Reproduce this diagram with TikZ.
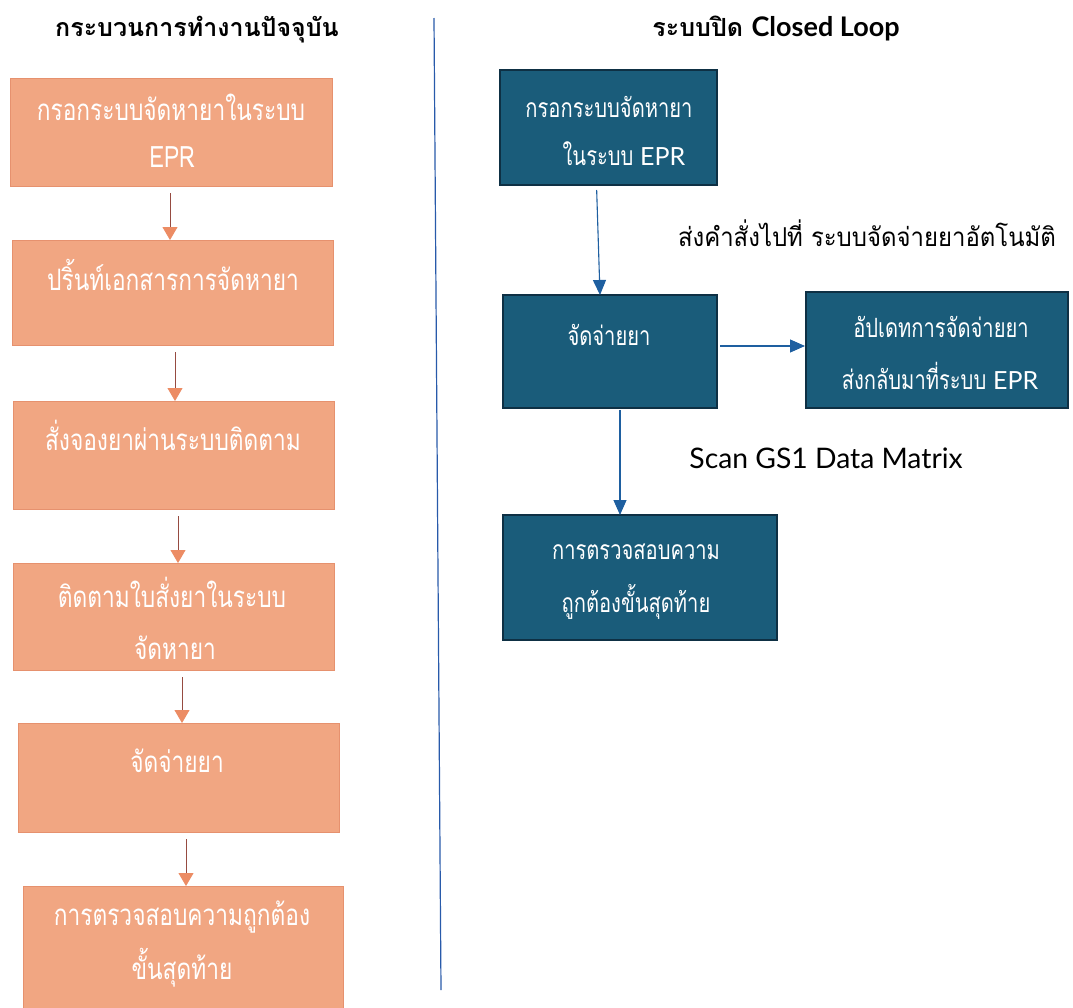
\documentclass[tikz,border=0pt]{standalone}
\usepackage{fontspec}
\newfontfamily\thai[Script=Thai]{Loma}
\newfontfamily\thaiL[Script=Thai, FakeStretch=0.77]{Loma}
\newfontfamily\thaiR[Script=Thai, FakeStretch=0.76]{Loma}
\newfontfamily\thaiM[Script=Thai, FakeStretch=0.92]{Loma}
\newfontfamily\latn{Lato}
\usetikzlibrary{arrows.meta}
\definecolor{ofill}{RGB}{241,166,130}
\definecolor{oborder}{RGB}{230,145,110}
\definecolor{oline}{RGB}{150,75,65}
\definecolor{ohead}{RGB}{236,140,100}
\definecolor{tfill}{RGB}{26,92,122}
\definecolor{tborder}{RGB}{14,48,68}
\definecolor{barrow}{RGB}{30,95,160}
\definecolor{divider}{RGB}{40,90,170}
\tikzset{
  obox/.style={draw=oborder, line width=1pt, fill=ofill, outer sep=0pt, anchor=north west},
  tbox/.style={draw=tborder, line width=1.6pt, fill=tfill, outer sep=0pt, anchor=north west},
  otxt/.style={text=white, font=\thaiL\fontsize{29.5}{33}\selectfont, inner sep=0pt, text height=15pt, text depth=0pt},
  ttxt/.style={text=white, font=\thaiR\fontsize{26.5}{30}\selectfont, inner sep=0pt, text height=14pt, text depth=0pt},
  plain/.style={text=black, inner sep=0pt, text height=12pt, text depth=0pt},
  oarr/.style={draw=oline, line width=0.8pt, -{Triangle[width=15pt,length=13pt,color=ohead]}, shorten <=7pt},
  barr/.style={draw=barrow, line width=1.1pt, -{Triangle[width=13pt,length=15pt,color=barrow]}},
}
\begin{document}
\begin{tikzpicture}[x=1pt,y=-1pt]
\useasboundingbox (0,0) rectangle (1073,1007);
\fill[white] (0,0) rectangle (1073,1007);

% titles
\node[plain, font=\thai\bfseries\fontsize{25}{29}\selectfont] (titleL) at (197,30) {กระบวนการทำงานปัจจุบัน};
\node[plain, font=\thai\bfseries\fontsize{25}{29}\selectfont] (titleR) at (776,30) {ระบบปิด {\latn\bfseries\fontsize{27}{30}\selectfont Closed Loop}};

% divider
\coordinate (dtop) at (434,18);
\coordinate (dbot) at (441,990);
\draw[divider, line width=1.2pt] (dtop) -- (dbot);

% left boxes
\node[obox, minimum width=322pt, minimum height=108pt] (L1) at (10,78) {};
\node[obox, minimum width=321pt, minimum height=105pt] (L2) at (12,240) {};
\node[obox, minimum width=321pt, minimum height=108pt] (L3) at (13,401) {};
\node[obox, minimum width=321pt, minimum height=107pt] (L4) at (13,563) {};
\node[obox, minimum width=321pt, minimum height=109pt] (L5) at (18,723) {};
\node[obox, minimum width=320pt, minimum height=125pt] (L6) at (23,886) {};

\node[otxt] (L1a) at (171,113) {กรอกระบบจัดหายาในระบบ};
\node[otxt] (L1b) at (172,160) {EPR};
\node[otxt] (L2a) at (173,283) {ปริ้นท์เอกสารการจัดหายา};
\node[otxt] (L3a) at (173,443) {สั่งจองยาผ่านระบบติดตาม};
\node[otxt] (L4a) at (172,600) {ติดตามใบสั่งยาในระบบ};
\node[otxt] (L4b) at (175,652) {จัดหายา};
\node[otxt] (L5a) at (177,765) {จัดจ่ายยา};
\node[otxt] (L6a) at (182,918) {การตรวจสอบความถูกต้อง};
\node[otxt] (L6b) at (182,972) {ขั้นสุดท้าย};

\draw[oarr] ([xshift=-1pt]L1.south) -- ([xshift=-2.5pt]L2.north);
\draw[oarr] ([xshift=2.5pt]L2.south) -- ([xshift=1.5pt]L3.north);
\draw[oarr] ([xshift=4.5pt]L3.south) -- ([xshift=4.5pt]L4.north);
\draw[oarr] ([xshift=8.5pt]L4.south) -- ([xshift=3.5pt]L5.north);
\draw[oarr] ([xshift=7.5pt]L5.south) -- ([xshift=3pt]L6.north);

% right boxes
\node[tbox, minimum width=217pt, minimum height=115pt] (R1) at (500,70) {};
\node[tbox, minimum width=214pt, minimum height=113pt] (R2) at (503,295) {};
\node[tbox, minimum width=262pt, minimum height=116pt] (R3) at (806,292) {};
\node[tbox, minimum width=274pt, minimum height=125pt] (R4) at (503,515) {};

\node[ttxt] (R1a) at (609,110) {กรอกระบบจัดหายา};
\node[ttxt] (R1b) at (624,158) {ในระบบ {\latn\fontsize{25}{29}\selectfont EPR}};
\node[ttxt] (R2a) at (609,338) {จัดจ่ายยา};
\node[ttxt] (R3a) at (941,330) {อัปเดทการจัดจ่ายยา};
\node[ttxt] (R3b) at (940,382) {ส่งกลับมาที่ระบบ {\latn\fontsize{25}{29}\selectfont EPR}};
\node[ttxt] (R4a) at (636,552) {การตรวจสอบความ};
\node[ttxt] (R4b) at (636,605) {ถูกต้องขั้นสุดท้าย};

\node[plain, font=\thaiM\fontsize{26}{30}\selectfont] (lab1) at (867,240) {ส่งคำสั่งไปที่ ระบบจัดจ่ายยาอัตโนมัติ};
\node[plain, font=\latn\fontsize{28.3}{31}\selectfont] (lab2) at (826,462) {Scan GS1 Data Matrix};

\draw[barr, shorten <=5pt] ([xshift=-12pt]R1.south) -- ([xshift=-10pt]R2.north);
\draw[barr, shorten <=3pt, shorten >=1pt] (R2.east |- 0,346) -- (R3.west |- 0,346);
\draw[barr, shorten <=2pt] ([xshift=10pt]R2.south) -- ([xshift=-20pt]R4.north);
\end{tikzpicture}
\end{document}
